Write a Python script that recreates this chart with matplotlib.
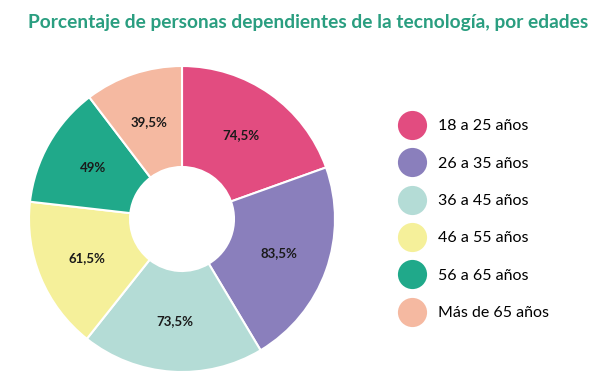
import matplotlib
import matplotlib.pyplot as plt
from matplotlib.lines import Line2D

matplotlib.use("Agg")

# ── Data ──────────────────────────────────────────────────────────────────────
age_groups = ["18 a 25 años", "26 a 35 años", "36 a 45 años",
              "46 a 55 años", "56 a 65 años", "Más de 65 años"]
percentages = [74.5, 83.5, 73.5, 61.5, 49, 39.5]
colors = ["#E24C80", "#8A7FBC", "#B4DCD6", "#F5F09A", "#20A98A", "#F5B9A1"]

plt.rcParams["font.family"] = ["Lato", "DejaVu Sans"]

fig = plt.figure(figsize=(6.06, 3.92), dpi=100)
ax = fig.add_axes([0, 0, 1, 1])

labels = [f"{v:g}%".replace(".", ",") for v in percentages]
wedges, texts = ax.pie(
    percentages,
    colors=colors,
    labels=labels,
    labeldistance=0.67,
    startangle=90,
    counterclock=False,
    center=(182, 173),
    radius=153,
    wedgeprops=dict(width=101, edgecolor="white", linewidth=1.5),
    frame=True,
)
for t in texts:
    t.set_ha("center")
    t.set_va("center")
    t.set_fontsize(9.5)
    t.set_fontweight("bold")
    t.set_color("#1a1a1a")
ax.set_xlim(0, 606)
ax.set_ylim(0, 392)
ax.set_aspect("equal")
ax.axis("off")

fig.text(0.509, 0.943, "Porcentaje de personas dependientes de la tecnología, por edades",
         ha="center", va="center", fontsize=13.8, fontweight="bold", color="#2A9E80")

handles = [Line2D([], [], marker="o", linestyle="none", markersize=21,
                  markerfacecolor=c, markeredgecolor="none") for c in colors]
ax.legend(handles, age_groups, loc="upper left", bbox_to_anchor=(0.648, 0.712),
          frameon=False, fontsize=11.5, labelspacing=1.45, handletextpad=0.85,
          borderaxespad=0, handlelength=1.6)

fig.savefig("out.png", dpi=100)
